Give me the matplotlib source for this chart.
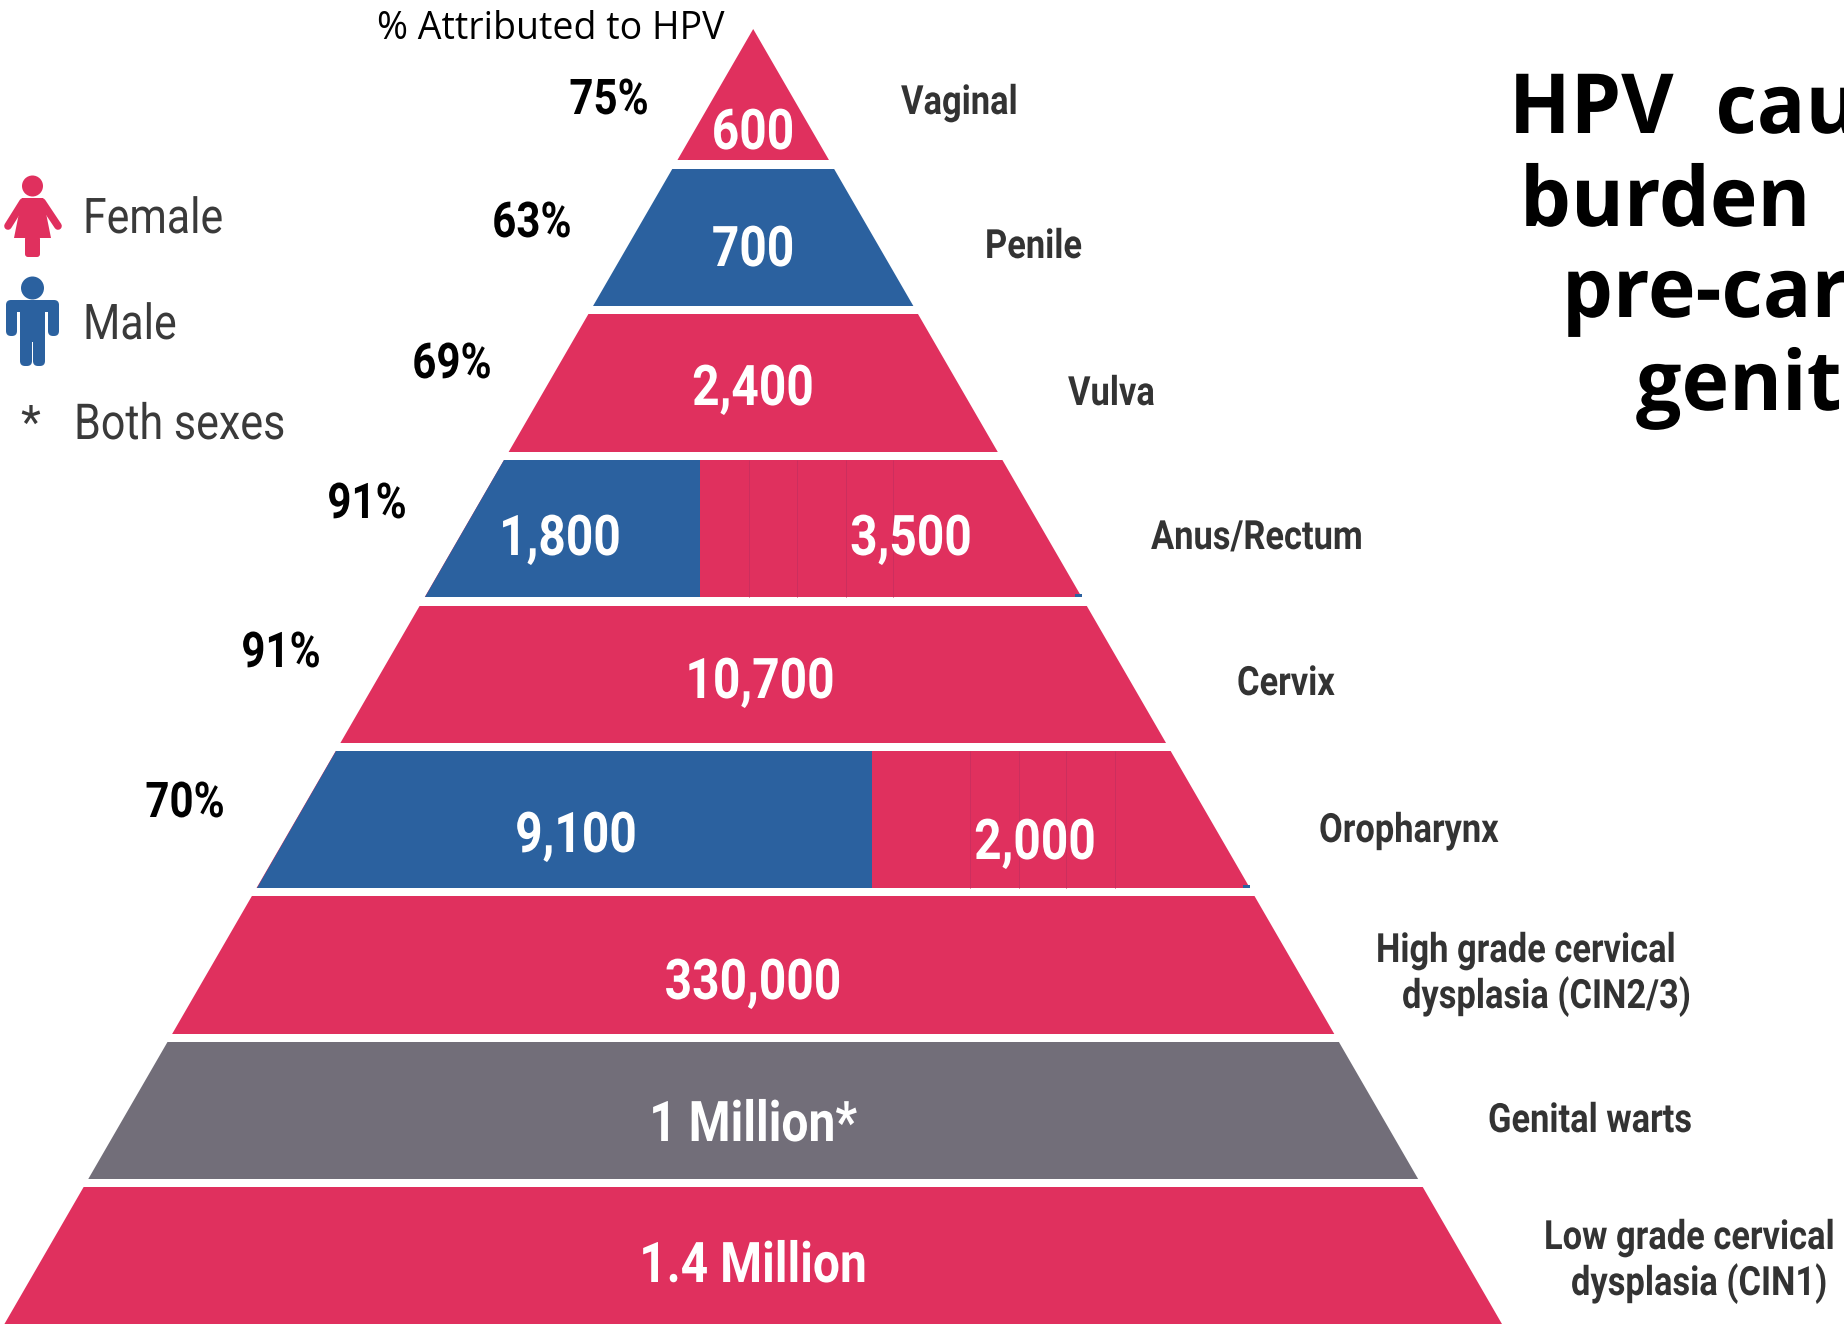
import matplotlib
matplotlib.use("Agg")
import matplotlib.pyplot as plt
from matplotlib.patches import Polygon, Circle, FancyBboxPatch
from matplotlib.patheffects import AbstractPathEffect
from matplotlib.transforms import Affine2D

RED = "#E0305E"
BLUE = "#2B619F"
GRAY = "#726E79"
H = 1326

colors = [RED, BLUE, RED, RED, RED, RED, RED, GRAY, RED]
values = ["600", "700", "2,400", "3,500", "10,700", "2,000", "330,000", "1 Million*", "1.4 Million"]
male_values = {3: "1,800", 5: "9,100"}
labels = ["Vaginal", "Penile", "Vulva", "Anus/Rectum", "Cervix", "Oropharynx",
          "High grade cervical", "dysplasia (CIN2/3)", "Genital warts",
          "Low grade cervical", "dysplasia (CIN1)"]
pct = ["75%", "63%", "69%", "91%", "91%", "70%"]
title_lines = ["HPV  cau", "burden", "pre-car", "genit"]

# layout in pixels of the picture
APEX_X, APEX_Y = 753.2, 29
SLOPE = 0.5782
bottoms = [160, 306, 452, 597, 743, 888, 1034, 1179, 1324]
tops = [APEX_Y, 169, 314, 460, 606, 751, 896, 1042, 1187]
splits = {3: 700, 5: 872}
seams = {3: [749, 797, 846, 893], 5: [970, 1019, 1066, 1115]}
value_xy = [(753, 149), (753, 266), (753, 405), (911, 555), (760, 698), (1035, 859),
            (753, 999), (753, 1141), (753, 1282)]
male_xy = {3: (560, 555), 5: (576, 852)}
label_xy = [(901, 114), (985, 258), (1068, 405), (1151, 549), (1237, 695), (1319, 842),
            (1376, 962), (1402, 1008), (1488, 1132), (1544, 1249), (1571, 1295)]
pct_xy = [(609, 114), (532, 237), (452, 378), (367, 518), (281, 667), (185, 817)]
title_xy = [(1509, 133), (1520, 226), (1562, 317), (1636, 410)]


class Tall(AbstractPathEffect):
    # stretches glyphs upward from the baseline, the font here is wider than the original
    def __init__(self, y, sy):
        super().__init__()
        self.y0 = H - y
        self.sy = sy

    def draw_path(self, renderer, gc, tpath, affine, rgbFace=None):
        stretched = affine + Affine2D().translate(0, -self.y0).scale(1, self.sy).translate(0, self.y0)
        renderer.draw_path(gc, tpath, stretched, rgbFace)


fig = plt.figure(figsize=(18.44, 13.26), dpi=100)
ax = fig.add_axes([0, 0, 1, 1])
ax.set_xlim(0, 1844)
ax.set_ylim(H, 0)
ax.axis("off")


def tall_text(x, y, s, size, color, weight="normal", ha="left", sy=1.17, family="Roboto"):
    ax.text(x, y, s, color=color, family=family, weight=weight, fontsize=size, ha=ha,
            va="baseline", path_effects=[Tall(y, sy)])


def edge(y):
    d = (y - APEX_Y) * SLOPE
    return APEX_X - d, APEX_X + d


for i in range(len(values)):
    t, b = tops[i], bottoms[i]
    tl, tr = edge(t)
    bl, br = edge(b)
    ax.add_patch(Polygon([(tl, t), (tr, t), (br, b), (bl, b)], fc=colors[i], ec="none"))
    if i in splits:
        s = splits[i]
        ax.add_patch(Polygon([(tl, t), (s, t), (s, b), (bl, b)], fc=BLUE, ec="none"))
        ax.add_patch(Polygon([(br - 7, b - 3), (br, b - 3), (br, b), (br - 7, b)], fc=BLUE, ec="none"))
        ax.vlines(seams[i], t, b, color="#CC2E5E", lw=0.7)
        tall_text(*male_xy[i], male_values[i], 34.5, "white", "bold", "center")
    tall_text(*value_xy[i], values[i], 34.5, "white", "bold", "center")

for s, xy in zip(labels, label_xy):
    tall_text(*xy, s, 24.8, "#333333", "bold")

for p, xy in zip(pct, pct_xy):
    tall_text(*xy, p, 30.3, "black", "bold", "center")

ax.text(377, 39, "% Attributed to HPV", color="black", family="Open Sans", fontsize=27,
        ha="left", va="baseline")

for line, xy in zip(title_lines, title_xy):
    tall_text(*xy, line, 58, "black", "bold", sy=1.03, family="Open Sans")

# legend icons
ax.add_patch(Circle((32.5, 186), 10.5, fc=RED, ec="none"))
ax.add_patch(Polygon([(22, 198), (43, 198), (51, 238), (14, 238)], fc=RED, ec="none"))
ax.add_patch(FancyBboxPatch((25, 236), 15, 21, boxstyle="round,pad=0,rounding_size=3", fc=RED, ec="none"))
ax.plot([23, 8], [202, 226], color=RED, lw=5.5, solid_capstyle="round")
ax.plot([42, 58], [202, 226], color=RED, lw=5.5, solid_capstyle="round")

ax.add_patch(Circle((32.5, 288), 11.5, fc=BLUE, ec="none"))
ax.add_patch(FancyBboxPatch((6, 300), 53, 12, boxstyle="round,pad=0,rounding_size=5", fc=BLUE, ec="none"))
ax.add_patch(FancyBboxPatch((6, 302), 11, 34, boxstyle="round,pad=0,rounding_size=5", fc=BLUE, ec="none"))
ax.add_patch(FancyBboxPatch((48, 302), 11, 34, boxstyle="round,pad=0,rounding_size=5", fc=BLUE, ec="none"))
ax.add_patch(FancyBboxPatch((20, 302), 25, 40, boxstyle="round,pad=0,rounding_size=2", fc=BLUE, ec="none"))
ax.add_patch(FancyBboxPatch((20, 330), 12, 36, boxstyle="round,pad=0,rounding_size=5", fc=BLUE, ec="none"))
ax.add_patch(FancyBboxPatch((33, 330), 12, 36, boxstyle="round,pad=0,rounding_size=5", fc=BLUE, ec="none"))

tall_text(83, 233, "Female", 30.8, "#3A3A3A", sy=1.15)
tall_text(83, 339, "Male", 30.8, "#3A3A3A", sy=1.15)
ax.text(30, 425, "*", color="#3A3A3A", family="Roboto", fontsize=33, ha="center", va="center")
tall_text(74, 439, "Both sexes", 31, "#3A3A3A", sy=1.15)

fig.savefig("out.png", dpi=100)
